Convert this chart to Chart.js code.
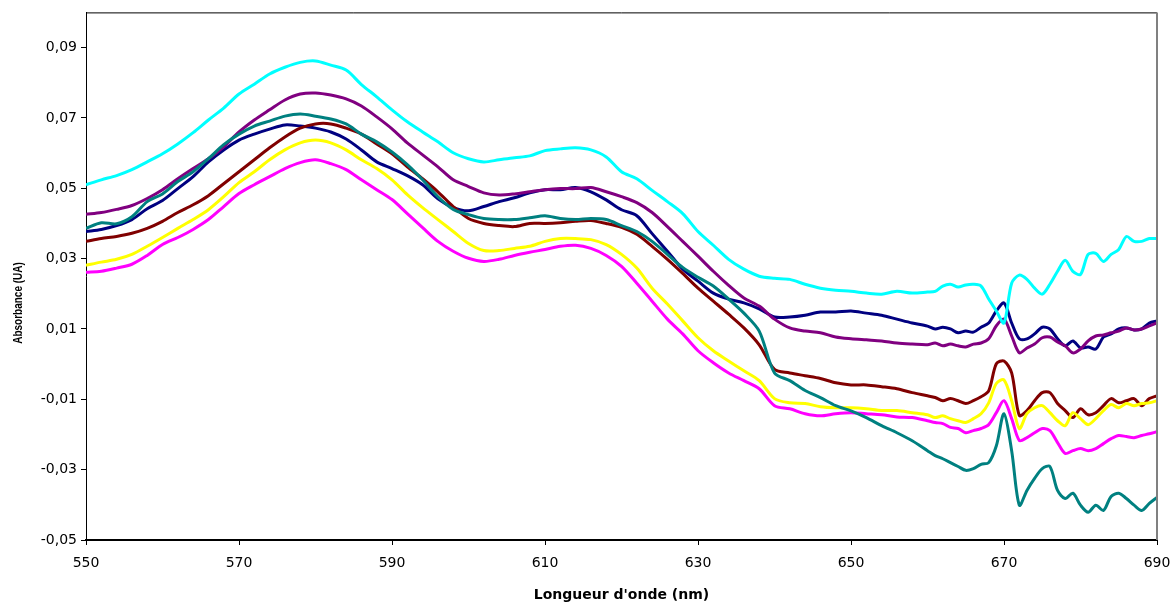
<!DOCTYPE html>
<html>
<head>
<meta charset="utf-8">
<script src="https://cdn.jsdelivr.net/npm/chart.js@4/dist/chart.umd.min.js"></script>
<style>
  html,body{margin:0;padding:0;background:#fff;}
  #wrap{width:1172px;height:606px;}
</style>
</head>
<body>
<div id="wrap"><canvas id="chart" width="1172" height="606"></canvas></div>
<script>
// longueurs d'onde (nm) : pas de 2 nm puis 1 nm après 660
const wavelengths=[550,552,554,556,558,560,562,564,566,568,
  570,572,574,576,578,580,582,584,586,588,
  590,592,594,596,598,600,602,604,606,608,
  610,612,614,616,618,620,622,624,626,628,
  630,632,634,636,638,640,642,644,646,648,
  650,652,654,656,658,660,
  661,662,663,664,665,666,667,668,669,670,
  671,672,673,674,675,676,677,678,679,680,
  681,682,683,684,685,686,687,688,689,690];

const cyanSerie=[0.0510,0.0524,0.0536,0.0553,0.0575,0.0598,0.0626,0.0658,0.0694,0.0728,
  0.0768,0.0796,0.0825,0.0844,0.0858,0.0862,0.0850,0.0836,0.0795,0.0760,
  0.0723,0.0689,0.0660,0.0632,0.0601,0.0584,0.0575,0.0581,0.0587,0.0592,
  0.0607,0.0612,0.0615,0.0609,0.0589,0.0547,0.0527,0.0494,0.0462,0.0428,
  0.0377,0.0338,0.0298,0.0270,0.0250,0.0244,0.0241,0.0227,0.0216,0.0210,
  0.0207,0.0202,0.0199,0.0207,0.0202,0.0205,
  0.0207,0.0222,0.0227,0.0219,0.0225,0.0227,0.0222,0.0185,0.0151,0.0117,
  0.0230,0.0253,0.0241,0.0216,0.0199,0.0227,0.0264,0.0295,0.0264,0.0255,
  0.0312,0.0315,0.0292,0.0312,0.0326,0.0363,0.0349,0.0349,0.0357,0.0357];

const purpleSerie=[0.0426,0.0431,0.0440,0.0451,0.0471,0.0496,0.0527,0.0556,0.0584,0.0618,
  0.0660,0.0694,0.0723,0.0751,0.0768,0.0771,0.0765,0.0754,0.0734,0.0703,
  0.0669,0.0629,0.0595,0.0561,0.0524,0.0505,0.0487,0.0481,0.0484,0.0490,
  0.0496,0.0499,0.0499,0.0502,0.0490,0.0476,0.0459,0.0431,0.0391,0.0349,
  0.0307,0.0264,0.0224,0.0188,0.0165,0.0128,0.0103,0.0094,0.0089,0.0077,
  0.0072,0.0069,0.0066,0.0060,0.0057,0.0055,
  0.0060,0.0052,0.0057,0.0052,0.0049,0.0057,0.0060,0.0072,0.0109,0.0128,
  0.0080,0.0032,0.0046,0.0057,0.0075,0.0077,0.0063,0.0052,0.0032,0.0043,
  0.0066,0.0080,0.0083,0.0089,0.0094,0.0103,0.0097,0.0100,0.0109,0.0117];

const navySerie=[0.0377,0.0383,0.0394,0.0411,0.0442,0.0465,0.0499,0.0533,0.0575,0.0609,
  0.0637,0.0654,0.0668,0.0680,0.0677,0.0671,0.0660,0.0640,0.0609,0.0575,
  0.0556,0.0536,0.0510,0.0470,0.0445,0.0436,0.0448,0.0462,0.0473,0.0487,
  0.0496,0.0496,0.0502,0.0490,0.0467,0.0439,0.0422,0.0371,0.0321,0.0270,
  0.0236,0.0202,0.0185,0.0174,0.0157,0.0134,0.0134,0.0139,0.0148,0.0148,
  0.0151,0.0145,0.0139,0.0128,0.0117,0.0108,
  0.0100,0.0105,0.0100,0.0089,0.0094,0.0091,0.0105,0.0117,0.0151,0.0174,
  0.0117,0.0072,0.0072,0.0086,0.0105,0.0100,0.0072,0.0052,0.0066,0.0046,
  0.0049,0.0043,0.0077,0.0086,0.0100,0.0103,0.0097,0.0100,0.0117,0.0123];

const tealSerie=[0.0386,0.0402,0.0399,0.0419,0.0462,0.0484,0.0519,0.0547,0.0584,0.0624,
  0.0654,0.0677,0.0691,0.0705,0.0711,0.0705,0.0697,0.0683,0.0654,0.0632,
  0.0603,0.0567,0.0524,0.0476,0.0440,0.0425,0.0414,0.0411,0.0411,0.0416,
  0.0422,0.0414,0.0411,0.0414,0.0411,0.0394,0.0377,0.0349,0.0312,0.0275,
  0.0247,0.0222,0.0185,0.0145,0.0094,-0.0025,-0.0047,-0.0075,-0.0095,-0.0118,
  -0.0133,-0.0152,-0.0175,-0.0195,-0.0218,-0.0246,
  -0.0260,-0.0269,-0.0280,-0.0291,-0.0302,-0.0297,-0.0285,-0.0280,-0.0232,-0.0141,
  -0.0246,-0.0401,-0.0359,-0.0325,-0.0297,-0.0291,-0.0359,-0.0382,-0.0367,-0.0401,
  -0.0421,-0.0401,-0.0416,-0.0376,-0.0367,-0.0382,-0.0401,-0.0416,-0.0396,-0.0379];

const darkRedSerie=[0.0349,0.0357,0.0363,0.0372,0.0386,0.0406,0.0431,0.0453,0.0479,0.0513,
  0.0547,0.0581,0.0615,0.0646,0.0671,0.0683,0.0683,0.0671,0.0654,0.0626,
  0.0598,0.0561,0.0527,0.0490,0.0448,0.0414,0.0400,0.0394,0.0391,0.0400,
  0.0400,0.0402,0.0406,0.0408,0.0400,0.0389,0.0369,0.0335,0.0298,0.0258,
  0.0216,0.0179,0.0142,0.0103,0.0055,-0.0015,-0.0025,-0.0033,-0.0041,-0.0053,
  -0.0059,-0.0059,-0.0064,-0.0070,-0.0081,-0.0090,
  -0.0095,-0.0104,-0.0098,-0.0104,-0.0112,-0.0104,-0.0093,-0.0076,0.0001,0.0009,
  -0.0025,-0.0146,-0.0132,-0.0104,-0.0081,-0.0081,-0.0112,-0.0132,-0.0152,-0.0127,
  -0.0144,-0.0138,-0.0118,-0.0098,-0.0110,-0.0104,-0.0098,-0.0118,-0.0098,-0.0090];

const yellowSerie=[0.0281,0.0290,0.0298,0.0312,0.0335,0.0360,0.0386,0.0411,0.0439,0.0476,
  0.0516,0.0547,0.0581,0.0609,0.0629,0.0637,0.0629,0.0609,0.0581,0.0556,
  0.0524,0.0482,0.0445,0.0411,0.0377,0.0343,0.0323,0.0323,0.0329,0.0335,
  0.0349,0.0357,0.0357,0.0354,0.0340,0.0312,0.0273,0.0216,0.0171,0.0123,
  0.0075,0.0038,0.0009,-0.0019,-0.0047,-0.0098,-0.0110,-0.0112,-0.0121,-0.0124,
  -0.0124,-0.0127,-0.0132,-0.0132,-0.0138,-0.0144,
  -0.0152,-0.0147,-0.0155,-0.0161,-0.0166,-0.0155,-0.0141,-0.0110,-0.0055,-0.0045,
  -0.0104,-0.0183,-0.0141,-0.0124,-0.0118,-0.0138,-0.0161,-0.0175,-0.0138,-0.0155,
  -0.0172,-0.0155,-0.0132,-0.0115,-0.0124,-0.0112,-0.0118,-0.0112,-0.0110,-0.0104];

const magentaSerie=[0.0261,0.0264,0.0273,0.0284,0.0309,0.0340,0.0360,0.0383,0.0411,0.0448,
  0.0485,0.0510,0.0533,0.0556,0.0573,0.0581,0.0570,0.0553,0.0524,0.0496,
  0.0468,0.0428,0.0388,0.0349,0.0321,0.0301,0.0292,0.0298,0.0309,0.0318,
  0.0326,0.0335,0.0338,0.0329,0.0309,0.0278,0.0230,0.0179,0.0128,0.0086,
  0.0038,0.0004,-0.0025,-0.0047,-0.0070,-0.0118,-0.0127,-0.0141,-0.0147,-0.0141,
  -0.0138,-0.0141,-0.0144,-0.0150,-0.0152,-0.0161,
  -0.0166,-0.0169,-0.0180,-0.0183,-0.0195,-0.0189,-0.0183,-0.0172,-0.0138,-0.0104,
  -0.0155,-0.0217,-0.0209,-0.0195,-0.0183,-0.0189,-0.0223,-0.0254,-0.0246,-0.0240,
  -0.0246,-0.0240,-0.0226,-0.0212,-0.0203,-0.0206,-0.0209,-0.0203,-0.0198,-0.0192];

const yTickValues=[-0.05,-0.03,-0.01,0.01,0.03,0.05,0.07,0.09];
const xTickValues=[550,570,590,610,630,650,670,690];
const yTitle="Absorbance (UA)";

const series=[
  {data:navySerie,color:"#000080"},
  {data:purpleSerie,color:"#800080"},
  {data:darkRedSerie,color:"#800000"},
  {data:yellowSerie,color:"#FFFF00"},
  {data:magentaSerie,color:"#FF00FF"},
  {data:tealSerie,color:"#008080"},
  {data:cyanSerie,color:"#00FFFF"}
];

const WIDE="'DejaVu Sans', Verdana, sans-serif";
const NARROW="'Liberation Sans', Arial, sans-serif";

// cadre haut/droite + titre vertical centré sur toute la hauteur (comme Excel)
const framePlugin={
  id:"frame",
  afterDatasetsDraw(chart){
    const {ctx,chartArea:a}=chart;
    ctx.save();
    ctx.lineWidth=1;
    ctx.strokeStyle="#000";
    ctx.beginPath(); ctx.moveTo(a.left,a.top+0.5); ctx.lineTo(a.right,a.top+0.5); ctx.stroke();
    ctx.strokeStyle="#808080"; ctx.lineWidth=2;
    ctx.beginPath(); ctx.moveTo(a.right,a.top); ctx.lineTo(a.right,a.bottom); ctx.stroke();
    ctx.restore();
  },
  afterDraw(chart){
    const ctx=chart.ctx;
    ctx.save();
    ctx.translate(18,chart.height/2);
    ctx.rotate(-Math.PI/2);
    ctx.scale(1,1.35);
    ctx.fillStyle="#000";
    ctx.font="bold 10px "+NARROW;
    ctx.textAlign="center";
    ctx.textBaseline="middle";
    ctx.fillText(yTitle,0,0);
    ctx.restore();
  }
};

new Chart(document.getElementById("chart").getContext("2d"),{
  type:"line",
  data:{
    datasets:series.map((s,i)=>({
      data:wavelengths.map((w,k)=>({x:w,y:s.data[k]})),
      borderColor:s.color,
      backgroundColor:s.color,
      borderWidth:3,
      pointRadius:0,
      tension:0.3,
      fill:false,
      order:series.length-i
    }))
  },
  options:{
    responsive:false,
    animation:false,
    layout:{padding:{left:6,right:15,top:10,bottom:1}},
    plugins:{legend:{display:false},tooltip:{enabled:false}},
    scales:{
      x:{
        type:"linear",min:550,max:690,
        afterBuildTicks:axis=>{axis.ticks=xTickValues.map(v=>({value:v}));},
        afterFit:scale=>{scale.height=65;scale.paddingLeft=0;scale.paddingRight=0;},
        grid:{drawOnChartArea:false,drawTicks:true,tickLength:5,tickColor:"#000",lineWidth:1},
        border:{color:"#000",width:2},
        ticks:{color:"#000",font:{family:WIDE,size:14},padding:10,maxRotation:0,callback:v=>String(v)},
        title:{display:true,text:"Longueur d'onde (nm)",color:"#000",font:{family:WIDE,size:14,weight:"bold"},padding:{top:0,bottom:1}}
      },
      y:{
        min:-0.05,max:0.10,
        afterBuildTicks:axis=>{axis.ticks=yTickValues.map(v=>({value:v}));},
        afterFit:scale=>{scale.width=80;},
        grid:{drawOnChartArea:false,drawTicks:true,tickLength:5,tickColor:"#000",lineWidth:1},
        border:{color:"#000",width:1},
        ticks:{color:"#000",font:{family:WIDE,size:14},padding:4,callback:v=>v.toFixed(2).replace(".",",")},
        title:{display:false}
      }
    }
  },
  plugins:[framePlugin]
});
</script>
</body>
</html>
